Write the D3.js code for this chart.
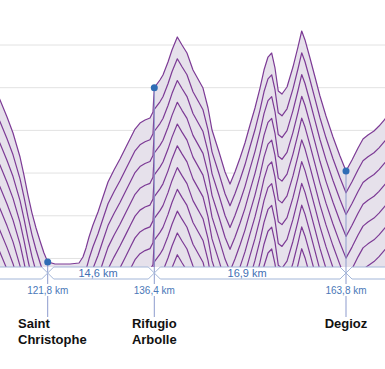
<!DOCTYPE html>
<html><head><meta charset="utf-8">
<script src="https://cdn.jsdelivr.net/npm/d3@7"></script>
<style>body{margin:0;background:#fff}svg{display:block}</style>
</head><body><svg id="c" width="385" height="369"></svg>
<script>
// ---- data ----
const profileKm = [109.79,111.84,113.62,115.27,116.23,117.05,118.01,118.55,119.10,119.65,120.20,120.75,121.29,121.8,
  122.8,124.85,126.09,126.63,127.05,127.46,128.00,128.69,129.37,130.06,
  130.88,131.70,132.52,133.21,133.76,134.44,135.13,135.81,136.22,136.4,
  137.21,137.64,138.36,138.93,139.69,140.36,141.07,141.93,143.36,144.08,
  144.65,145.65,146.51,147.22,147.93,148.65,149.36,150.08,150.79,151.51,
  152.08,152.65,153.18,153.65,154.12,154.65,155.37,156.22,156.94,157.47,
  157.94,158.65,159.37,160.08,160.94,161.94,162.94,163.8,164.66,165.52,
  166.23,166.94,167.80,168.52,169.37,170.80];
const profileElev = [3351,3000,2684,2356,2157,1969,1688,1477,1243,1032,857,705,564,460,
  435,435,447,517,623,751,892,1044,1220,1395,
  1536,1665,1805,1923,2016,2086,2122,2145,2215,2500,
  2590,2649,2801,2941,3094,3000,2906,2707,2496,2262,
  2004,1747,1513,1372,1513,1677,1852,2063,2262,2496,
  2707,2859,2906,2731,2461,2426,2508,2742,2977,3164,
  3059,2848,2625,2403,2168,1923,1700,1524,1653,1794,
  1899,1946,1993,2051,2133,2262];
const stationNames = [["Saint","Christophe"],["Rifugio","Arbolle"],["Degioz"]];
const stationKm = [121.8,136.4,163.8];
const stationElev = [460,2500,1524];
const kmLabels = ["121,8 km","136,4 km","163,8 km"];
const segmentLabels = ["14,6 km","16,9 km"];
const gridElev = [500,1000,1500,2000,2500,3000];
const contourStep = 255;
const contourCount = 11;

// ---- layout ----
const W = 385, H = 369;
const baseY = 267, axisMid = 273, axisHalf = 6;
const svg = d3.select("#c");
const x = d3.scaleLinear().domain(stationKm).range([47.7,154.3,346]);
const y = d3.scaleLinear().domain([400,3000]).range([baseY,45]);
const pts = profileKm.map((k,i)=>({km:k,e:profileElev[i]}));

// grid
svg.append("g").selectAll("line").data(gridElev).join("line")
  .attr("x1",0).attr("x2",W).attr("y1",d=>y(d)).attr("y2",d=>y(d))
  .attr("stroke","#e2e2e2").attr("stroke-width",1);

// clip
svg.append("clipPath").attr("id","clip").append("rect")
  .attr("x",0).attr("y",0).attr("width",W).attr("height",baseY);

const g = svg.append("g").attr("clip-path","url(#clip)");
g.append("path").datum(pts)
  .attr("d",d3.area().x(d=>x(d.km)).y0(baseY).y1(d=>y(d.e)))
  .attr("fill","#e6e1eb");

const line = d3.line().x(d=>x(d.km)).y(d=>y(d.e));
g.selectAll("path.c").data(d3.range(contourCount)).join("path")
  .attr("class","c")
  .attr("d",k=>line(pts.map(p=>({km:p.km,e:p.e-k*contourStep}))))
  .attr("fill","none").attr("stroke","#7c3a95").attr("stroke-width",1.2)
  .attr("stroke-linejoin","round");

// marker lines
svg.append("g").selectAll("line").data(stationKm).join("line")
  .attr("x1",d=>x(d)).attr("x2",d=>x(d))
  .attr("y1",(d,i)=>y(stationElev[i])).attr("y2",317)
  .attr("stroke","#8d9bcd").attr("stroke-width",1);

// axis hexagons
const bounds = [x.invert(-60), ...stationKm, x.invert(W+60)];
const hex = [];
for (let i=0;i<bounds.length-1;i++) hex.push([bounds[i],bounds[i+1]]);
svg.append("g").selectAll("path").data(hex).join("path")
  .attr("d",([a,b])=>{
    const xa=x(a), xb=x(b);
    return `M${xa},${axisMid}L${xa+axisHalf},${axisMid-axisHalf}L${xb-axisHalf},${axisMid-axisHalf}L${xb},${axisMid}L${xb-axisHalf},${axisMid+axisHalf}L${xa+axisHalf},${axisMid+axisHalf}Z`;
  })
  .attr("fill","#fff").attr("stroke","#a3b6d8").attr("stroke-width",1);

// segment labels
svg.append("g").selectAll("text").data(segmentLabels).join("text")
  .attr("x",(d,i)=>(x(stationKm[i])+x(stationKm[i+1]))/2-3)
  .attr("y",axisMid+4)
  .attr("text-anchor","middle")
  .attr("font-family","Liberation Sans, Arial, sans-serif").attr("font-size",11)
  .attr("fill","#3f70b4").text(d=>d);

// km labels with white background
const kl = svg.append("g");
kl.selectAll("rect").data(stationKm).join("rect")
  .attr("x",d=>x(d)-22).attr("y",284).attr("width",44).attr("height",12).attr("fill","#fff");
kl.selectAll("text").data(kmLabels).join("text")
  .attr("x",(d,i)=>x(stationKm[i])).attr("y",294)
  .attr("text-anchor","middle")
  .attr("font-family","Liberation Sans, Arial, sans-serif").attr("font-size",10)
  .attr("fill","#4a78b8").text(d=>d);

// dots
svg.append("g").selectAll("circle").data(stationKm).join("circle")
  .attr("cx",d=>x(d)).attr("cy",(d,i)=>y(stationElev[i])).attr("r",3.5)
  .attr("fill","#2f6db5");

// station names
const ng = svg.append("g");
stationNames.forEach((lines,i)=>{
  const t = ng.append("text")
    .attr("font-family","Liberation Sans, Arial, sans-serif").attr("font-size",13)
    .attr("font-weight","bold").attr("fill","#111");
  lines.forEach((s,j)=>t.append("tspan").attr("y",328+j*15.5).text(s));
  const tsp = t.selectAll("tspan").nodes();
  const maxW = d3.max(tsp,n=>n.getComputedTextLength());
  const left = Math.max(18, x(stationKm[i]) - maxW/2);
  t.selectAll("tspan").attr("x",left);
});
</script>
</body></html>
